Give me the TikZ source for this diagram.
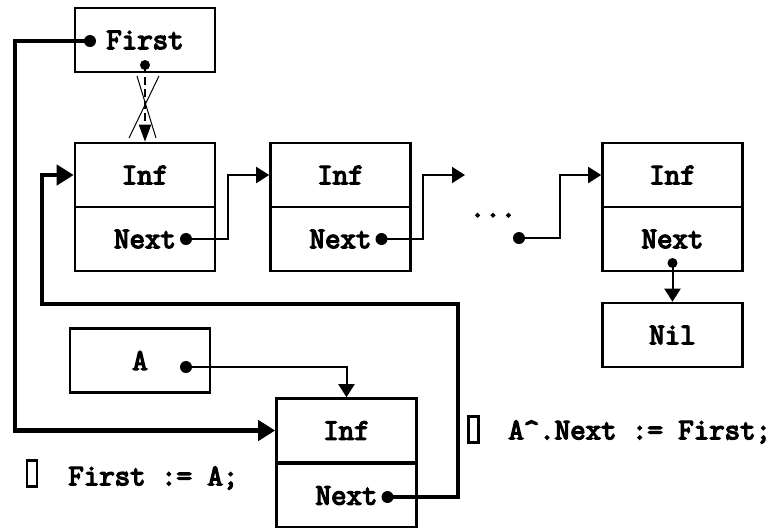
\documentclass[tikz,border=0pt]{standalone}
\usepackage{fontspec}
\newfontfamily\heavymono[FakeBold=4.5]{Latin Modern Mono}
\usetikzlibrary{arrows.meta,calc}

\tikzset{
  txt/.style={font=\heavymono\fontsize{15}{17}\selectfont},
  cell/.style={draw, line width=1.3pt, rectangle, inner sep=0pt,
    minimum width=70pt, minimum height=32pt, txt},
  label/.style={inner sep=0pt, txt},
  link/.style={line width=1pt, -{Triangle[length=6.5pt,width=8pt]}},
  biglink/.style={line width=2.4pt, -{Triangle[length=8.5pt,width=10pt]}},
  tofu/.style={draw, line width=1.2pt, inner sep=0pt, minimum width=5pt, minimum height=13pt},
}

\begin{document}
\begin{tikzpicture}[x=0.5pt, y=-0.5pt]
  \useasboundingbox (0,0) rectangle (778,527);
  \clip (0,0) rectangle (778,527);

  % pointer variable First
  \node[cell] (first) at (145,40) {First};

  % list elements
  \node[cell] (inf1)  at (145,175)   {Inf};
  \node[cell] (next1) at (145,239)   {Next};
  \node[cell] (inf2)  at (340.5,175) {Inf};
  \node[cell] (next2) at (340.5,239) {Next};
  \node[cell] (inf3)  at (672.5,175) {Inf};
  \node[cell] (next3) at (672.5,239) {Next};
  \node[cell] (nil)   at (672.5,335) {Nil};

  % pointer variable A and the new element
  \node[cell] (abox)  at (140,360.5) {A};
  \node[cell] (inf4)  at (346.5,430.5) {Inf};
  \node[cell] (next4) at (346.5,495.5) {Next};

  % ellipsis between elements
  \node[label, anchor=base] (ell) at (493,217) {...};

  % pointer origins
  \coordinate (dF)  at (90,41);
  \coordinate (dF2) at (145,65);
  \coordinate (d1)  at ($(next1.center)+(41,0)$);
  \coordinate (d2)  at ($(next2.center)+(41,0)$);
  \coordinate (d3)  at (519,238);
  \coordinate (d3b) at (672.5,263);
  \coordinate (dA)  at (186,367);
  \coordinate (d4)  at ($(next4.center)+(41,1.5)$);
  \coordinate (e2)  at (465,175);

  % links along the list
  \draw[link] (d1) -- ([xshift=-20.5pt]d1 -| inf2.west) |- (inf2.west);
  \draw[link] (d2) -- (423,239) |- (e2);
  \draw[link] (d3) -- ([xshift=-20.5pt]d3 -| inf3.west) |- (inf3.west);
  \draw[link] (d3b) -- (nil.north);
  \draw[link] (dA) -| (inf4.north);

  % old link from First, crossed out
  \draw[line width=1pt, dash pattern=on 4pt off 2pt, -{Triangle[length=8.5pt,width=6pt]}] (dF2) -- (inf1.north);
  \draw[line width=0.5pt] (137,76) -- (156,138);
  \draw[line width=0.5pt] (159,76) -- (129,138);

  % new links
  \draw[biglink] (dF) -- (15,41) |- (inf4.west);
  \draw[biglink] (d4) -- (458,497) -- (458,304) -- (42,304) |- (inf1.west);

  \foreach \p in {dF,d1,d2,d3,dA,d4} \fill (\p) circle (6);
  \fill (dF2) circle (5);
  \fill (d3b) circle (5);

  % statements
  \node[tofu] (t1) at (32,473.5) {};
  \node[label, anchor=west] (s1) at (68,478) {First := A;};
  \node[tofu] (t2) at (473.5,429.5) {};
  \node[label, anchor=west] (s2) at (508,432) {A\textasciicircum.Next := First;};
\end{tikzpicture}
\end{document}
